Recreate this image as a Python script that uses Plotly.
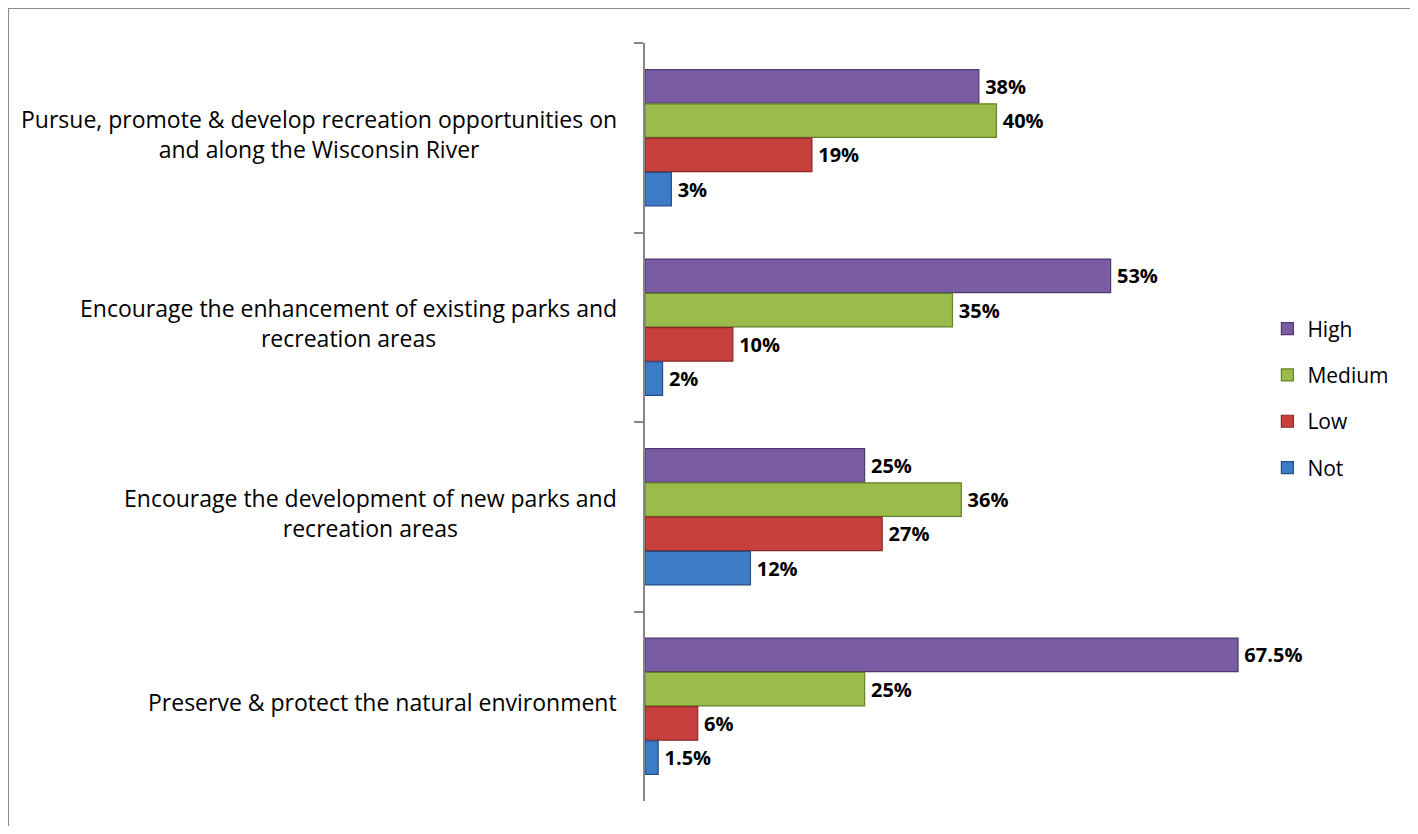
import plotly.graph_objects as go

categories = [
    "Pursue, promote & develop recreation opportunities on<br>and along the Wisconsin River",
    "Encourage the enhancement of existing parks and<br>recreation areas",
    "Encourage the development of new parks and<br>recreation areas",
    "Preserve & protect the natural environment",
]
series_names = ["High", "Medium", "Low", "Not"]
high = [38, 53, 25, 67.5]
medium = [40, 35, 36, 25]
low = [19, 10, 27, 6]
not_ = [3, 2, 12, 1.5]
values = [high, medium, low, not_]
colors = ["#7A5CA3", "#9BBB4A", "#C8403E", "#3E7BC6"]
edges = ["#4F3A70", "#65822C", "#8C2A28", "#254F85"]

FONT = "Open Sans"
fig = go.Figure()
for name, vals, c, e in zip(series_names, values, colors, edges):
    fig.add_trace(go.Bar(
        name=name, y=categories, x=vals, orientation="h",
        marker=dict(color=c, line=dict(color=e, width=1.2)),
        text=[f"\u2009{v:g}%" for v in vals], textposition="outside",
        textfont=dict(family=FONT, size=20, color="black", weight="bold"),
        cliponaxis=False, legendgroup=name, hoverinfo="skip",
    ))

for cat in categories:
    fig.add_annotation(x=-0.042, xref="paper", y=cat, yref="y", text=cat,
                       xanchor="right", yanchor="middle", align="center", yshift=4,
                       showarrow=False, font=dict(family=FONT, size=23, color="black"))

fig.add_shape(type="rect", xref="paper", yref="paper",
              x0=-1.0357, x1=1.2456, y0=-0.2, y1=1.0462,
              line=dict(color="#8C8C8C", width=2), layer="below")

fig.update_layout(
    width=1402, height=818, barmode="group", bargap=0.277, bargroupgap=0.02,
    margin=dict(l=637, r=150, t=35, b=25),
    plot_bgcolor="white", paper_bgcolor="white",
    showlegend=True,
    legend=dict(x=1.012, y=0.531, xanchor="left", yanchor="middle",
                traceorder="grouped", tracegroupgap=16,
                font=dict(family=FONT, size=21, color="black"),
                itemwidth=30),
    xaxis=dict(range=[0, 70], visible=False),
    yaxis=dict(type="category", categoryorder="array", categoryarray=categories,
               autorange="reversed",
               showticklabels=False, ticks="outside", ticklen=9, tickson="boundaries",
               tickcolor="#868686", tickwidth=1.5, showline=True, linecolor="#868686",
               linewidth=1.5, showgrid=False, zeroline=False),
)
fig.write_html("out.html")
